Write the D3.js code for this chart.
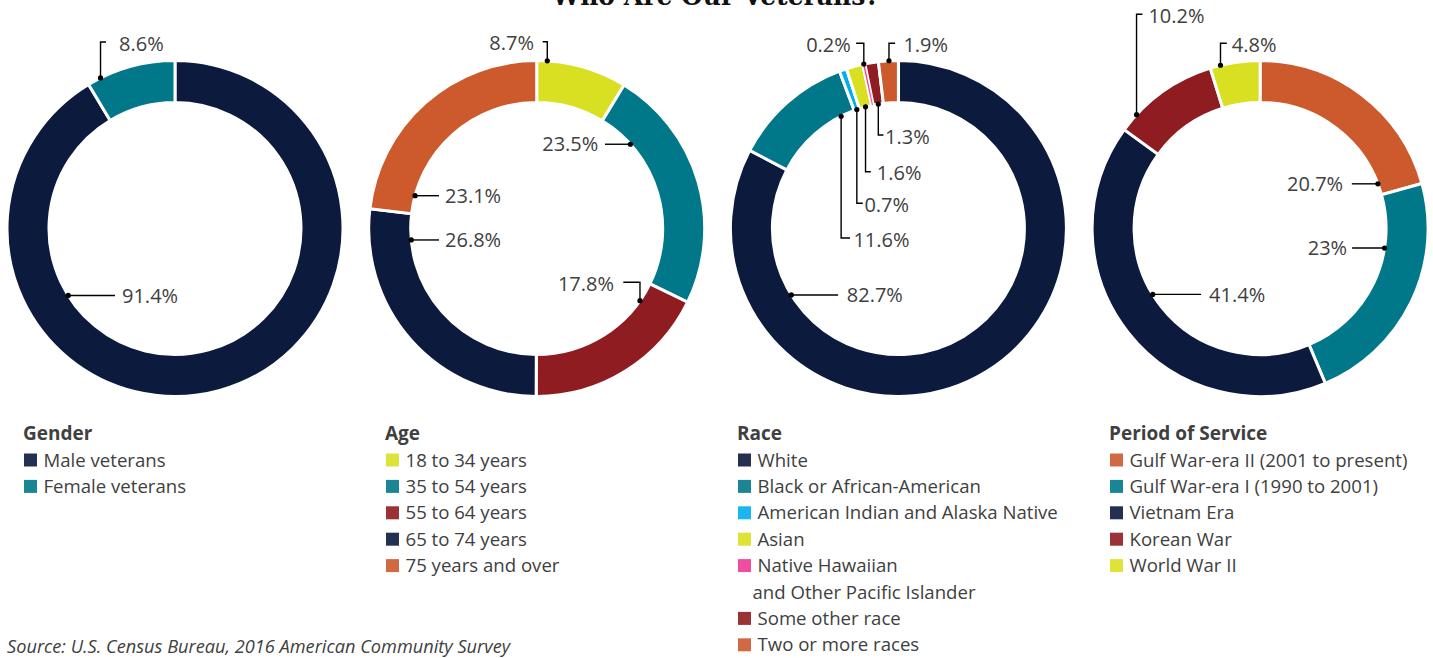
<!DOCTYPE html>
<html><head><meta charset="utf-8">
<script src="https://cdn.jsdelivr.net/npm/d3@7"></script>
<style>
html,body{margin:0;padding:0;background:#fff;}
svg{display:block;}
</style></head>
<body>
<svg id="chart" width="1433" height="658"></svg>
<script>
// ---------- DATA ----------
const title = "Who Are Our Veterans?";
const source = "Source: U.S. Census Bureau, 2016 American Community Survey";

const genderTitle = "Gender";
const genderCats = ["Male veterans", "Female veterans"];
const genderVals = [91.4, 8.6];

const ageTitle = "Age";
const ageCats = ["18 to 34 years", "35 to 54 years", "55 to 64 years", "65 to 74 years", "75 years and over"];
const ageVals = [8.7, 23.5, 17.8, 26.8, 23.1];

const raceTitle = "Race";
const raceCats = ["White", "Black or African-American", "American Indian and Alaska Native", "Asian",
  "Native Hawaiian\nand Other Pacific Islander", "Some other race", "Two or more races"];
const raceVals = [82.7, 11.6, 0.7, 1.6, 0.2, 1.3, 1.9];

const periodTitle = "Period of Service";
const periodCats = ["Gulf War-era II (2001 to present)", "Gulf War-era I (1990 to 2001)", "Vietnam Era", "Korean War", "World War II"];
const periodVals = [20.7, 23, 41.4, 10.2, 4.8];

// ---------- STYLE ----------
const C = {navy:"#0c1a3e", teal:"#00788a", red:"#8f1c20", orange:"#cc5a2d", yellow:"#d9e021", cyan:"#00aeef", pink:"#ec3a96"};
const genderColors = [C.navy, C.teal];
const ageColors = [C.yellow, C.teal, C.red, C.navy, C.orange];
const raceColors = [C.navy, C.teal, C.cyan, C.yellow, C.pink, C.red, C.orange];
const periodColors = [C.orange, C.teal, C.navy, C.red, C.yellow];

// label layout (relative to donut centre): t = position within slice, edge, route, ey, ex, tx, anchor
const genderLabels = [
  {t:.723, edge:"in", route:"h", ex:-60, tx:-53, anchor:"start"},
  {t:.15, edge:"out", route:"v", ey:-186.5, ex:-69, tx:-56, anchor:"start"}
];
const ageLabels = [
  {t:.115, edge:"out", route:"v", ey:-186.8, ex:6, tx:-2.7, anchor:"end"},
  {t:.197, edge:"in", route:"h", ex:68.3, tx:61.6, anchor:"end"},
  {t:.139, edge:"in", route:"v", ey:53.8, ex:86.6, tx:77.3, anchor:"end"},
  {t:.876, edge:"in", route:"h", ex:-97.7, tx:-91.7, anchor:"start"},
  {t:.10, edge:"in", route:"h", ex:-97.7, tx:-91.7, anchor:"start"}
];
const raceLabels = [
  {t:.80, edge:"in", route:"h", ex:-60.3, tx:-51.6, anchor:"start"},
  {t:.844, edge:"in", route:"v", ey:9.5, ex:-48.3, tx:-45, anchor:"start"},
  {t:.5, edge:"in", route:"v", ey:-25.2, ex:-35.6, tx:-34, anchor:"start"},
  {t:.5, edge:"in", route:"v", ey:-56.8, ex:-27.6, tx:-21.6, anchor:"start"},
  {t:.5, edge:"out", route:"v", ey:-185.2, ex:-42.3, tx:-47.6, anchor:"end"},
  {t:.5, edge:"in", route:"v", ey:-93.5, ex:-15, tx:-13.3, anchor:"start"},
  {t:.53, edge:"out", route:"v", ey:-185.2, ex:-3.3, tx:5, anchor:"start"}
];
const periodLabels = [
  {t:.93, edge:"in", route:"h", ex:91.7, tx:83, anchor:"end"},
  {t:.296, edge:"in", route:"h", ex:92, tx:87, anchor:"end"},
  {t:.546, edge:"in", route:"h", ex:-59, tx:-51, anchor:"start"},
  {t:.18, edge:"out", route:"v", ey:-214.2, ex:-117.7, tx:-111.7, anchor:"start"},
  {t:.21, edge:"out", route:"v", ey:-185.2, ex:-33.3, tx:-28.3, anchor:"start"}
];

const charts = [
  {title:genderTitle, cats:genderCats, vals:genderVals, colors:genderColors, labels:genderLabels},
  {title:ageTitle, cats:ageCats, vals:ageVals, colors:ageColors, labels:ageLabels},
  {title:raceTitle, cats:raceCats, vals:raceVals, colors:raceColors, labels:raceLabels},
  {title:periodTitle, cats:periodCats, vals:periodVals, colors:periodColors, labels:periodLabels}
];

const svg = d3.select("#chart");
const textColor = "#404040";
const font = "'Open Sans', 'Noto Sans', sans-serif";
const cx0 = 175, step = 361.7, cy = 228.5, rOut = 168, rIn = 126;
const legendX = [23, 385, 737, 1109];

svg.append("text").attr("x", 716).attr("y", 5)
  .attr("text-anchor", "middle")
  .attr("font-family", "'DejaVu Serif', serif").attr("font-weight", "bold")
  .attr("font-size", 26).attr("textLength", 328).attr("lengthAdjust", "spacingAndGlyphs")
  .attr("fill", "#111").text(title);

const pie = d3.pie().sort(null).value(d => d);
const arc = d3.arc().innerRadius(rIn).outerRadius(rOut);

charts.forEach((ch, i) => {
  const cx = cx0 + i * step;
  const g = svg.append("g").attr("transform", `translate(${cx},${cy})`);
  const arcs = pie(ch.vals);
  g.selectAll("path.slice").data(arcs).join("path").attr("class", "slice")
    .attr("d", arc).attr("fill", (d, j) => ch.colors[j])
    .attr("stroke", "#fff").attr("stroke-width", 3).attr("stroke-linejoin", "miter");
  // re-draw very thin slices so they remain visible
  g.selectAll("path.thin").data(arcs.filter(d => (d.endAngle - d.startAngle) < 0.02)).join("path")
    .attr("class", "thin").attr("d", arc).attr("fill", d => ch.colors[d.index])
    .attr("stroke", "#fff").attr("stroke-width", 0.6);

  // labels
  arcs.forEach((d, j) => {
    const L = ch.labels[j];
    const a = d.startAngle + L.t * (d.endAngle - d.startAngle);
    const r = L.edge === "in" ? rIn : rOut;
    const x0 = r * Math.sin(a), y0 = -r * Math.cos(a);
    let pts, ty;
    if (L.route === "h") { pts = [[x0, y0], [L.ex, y0]]; ty = y0; }
    else { pts = [[x0, y0], [x0, L.ey], [L.ex, L.ey]]; ty = L.ey + 1.5; }
    g.append("path").attr("d", d3.line()(pts)).attr("fill", "none")
      .attr("stroke", "#000").attr("stroke-width", 1.4);
    g.append("circle").attr("cx", x0).attr("cy", y0).attr("r", 2.6).attr("fill", "#000");
    g.append("text").attr("x", L.tx).attr("y", ty).attr("dy", "0.36em")
      .attr("text-anchor", L.anchor).attr("font-family", font).attr("font-size", 20)
      .attr("fill", textColor).text(d3.format("")(ch.vals[j]) + "%");
  });

  // legend
  const lx = legendX[i];
  const lg = svg.append("g").attr("transform", `translate(${lx},0)`);
  lg.append("text").attr("x", 0).attr("y", 433).attr("dy", "0.36em")
    .attr("font-family", font).attr("font-weight", "bold").attr("font-size", 19)
    .attr("fill", textColor).text(ch.title);
  let row = 0;
  ch.cats.forEach((c, j) => {
    const y = 460 + row * 26.4;
    lg.append("rect").attr("x", 1).attr("y", y - 6.5).attr("width", 13).attr("height", 13)
      .attr("fill", ch.colors[j]).attr("opacity", 0.9);
    const lines = c.split("\n");
    lines.forEach((ln, k) => {
      lg.append("text").attr("x", k === 0 ? 20.5 : 15.5).attr("y", y + k * 26.4).attr("dy", "0.36em")
        .attr("font-family", font).attr("font-size", 18.6).attr("fill", textColor).text(ln);
    });
    row += lines.length;
  });
});

svg.append("text").attr("x", 7).attr("y", 646).attr("dy", "0.36em")
  .attr("font-family", font).attr("font-style", "italic").attr("font-size", 18.2)
  .attr("fill", textColor).text(source);
</script>
</body></html>
